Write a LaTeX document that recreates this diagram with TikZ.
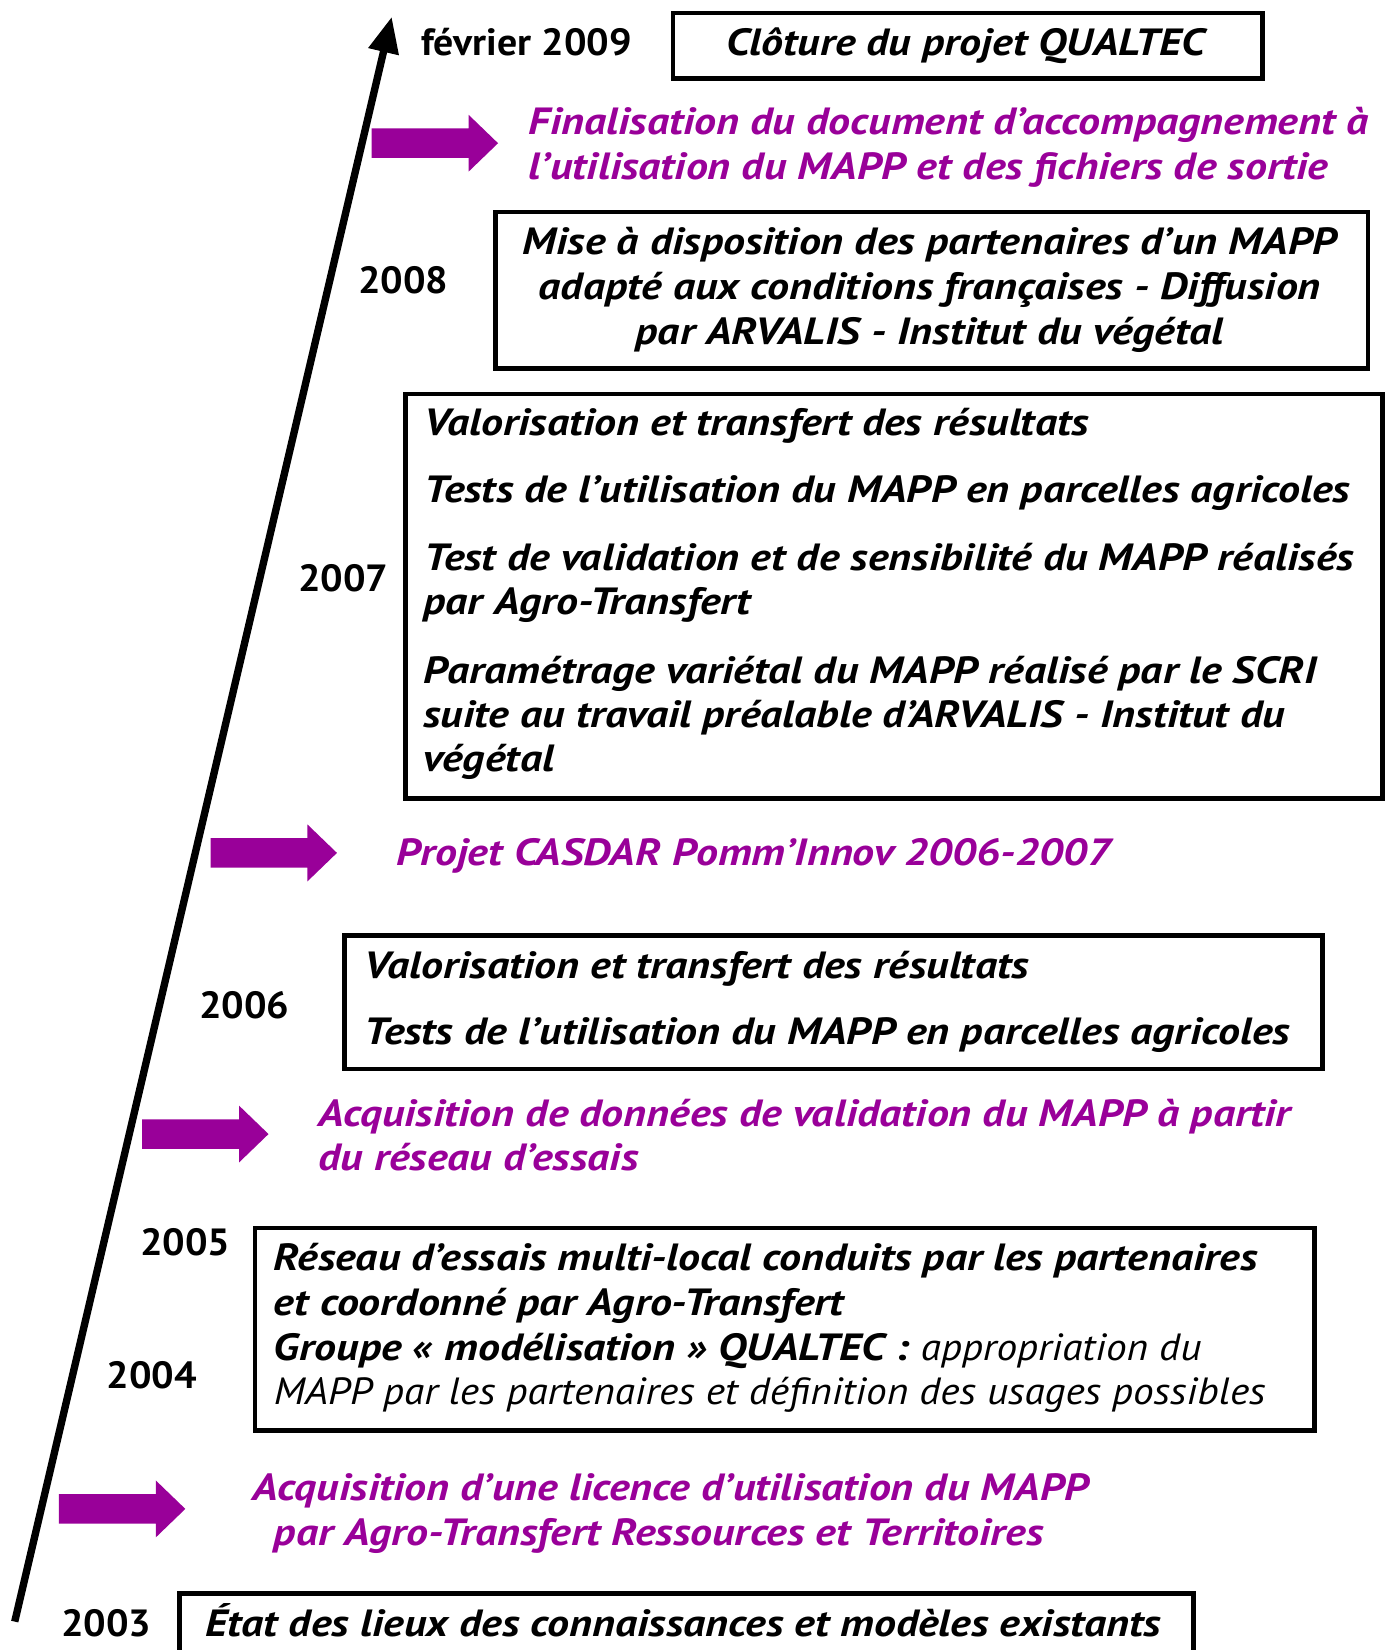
\documentclass[tikz,border=0pt]{standalone}
\usepackage{fontspec}
\setmainfont{PT Sans}
\newfontfamily\boxfont{PT Sans}[FakeStretch=1.16]
\newfontfamily\regfont{PT Sans}[FakeStretch=1.09]
\newfontfamily\yrfont{PT Sans}[FakeStretch=1.05]
\usetikzlibrary{arrows.meta}
\definecolor{mag}{HTML}{990099}
\begin{document}
\begin{tikzpicture}[x=1pt,y=-1pt,
  tbox/.style={draw=black, line width=4.5pt, inner sep=0pt, anchor=north west},
  txt/.style={inner sep=0pt, anchor=base west, font=\boxfont\fontsize{36}{42}\selectfont\bfseries\itshape},
  ctxt/.style={txt, anchor=base},
  mtxt/.style={txt, text=mag},
  yr/.style={inner sep=0pt, anchor=base west, font=\yrfont\fontsize{36}{40}\selectfont\bfseries},
  blockarrow/.pic={\fill[mag] (0,-14) -- (92,-14) -- (92,-27) -- (120,0) -- (92,27) -- (92,14) -- (0,14) -- cycle;}
]
\useasboundingbox (0,0) rectangle (1320,1567);
\clip (0,0) rectangle (1320,1567);
\fill[white] (0,0) rectangle (1320,1567);

% timeline
\coordinate (t0) at (14,1540);
\coordinate (t1) at (372,16);
\draw[line width=7pt, -{Triangle[length=34pt,width=28pt]}] (t0) -- (t1);

% top
\node[yr] (y09) at (400,53) {février 2009};
\node[tbox, minimum width=560, minimum height=62] (b1) at (637,10) {};
\node[ctxt] (b1t) at (917,53) {Clôture du projet QUALTEC};

\pic (a1) at (353,136) {blockarrow};
\node[mtxt] (m1a) at (502,128) {Finalisation du document d’accompagnement à};
\node[mtxt] (m1b) at (502,170) {l’utilisation du MAPP et des fichiers de sortie};

% 2008
\node[yr] (y08) at (340,279) {2008};
\node[tbox, minimum width=829, minimum height=149] (b2) at (468,199) {};
\node[ctxt] (b2a) at (883,242) {Mise à disposition des partenaires d’un MAPP};
\node[ctxt] (b2b) at (883,284) {adapté aux conditions françaises - Diffusion};
\node[ctxt] (b2c) at (883,327) {par ARVALIS - Institut du végétal};

% 2007
\node[yr] (y07) at (283,562) {2007};
\node[tbox, minimum width=928, minimum height=384] (b3) at (383,372) {};
\node[txt] (b3a) at (403,414) {Valorisation et transfert des résultats};
\node[txt] (b3b) at (403,477) {Tests de l’utilisation du MAPP en parcelles agricoles};
\node[txt] (b3c) at (403,542) {Test de validation et de sensibilité du MAPP réalisés};
\node[txt] (b3d) at (402,584) {par Agro-Transfert};
\node[txt] (b3e) at (402,649) {Paramétrage variétal du MAPP réalisé par le SCRI};
\node[txt] (b3f) at (402,691) {suite au travail préalable d’ARVALIS - Institut du};
\node[txt] (b3g) at (402,733) {végétal};

\pic (a2) at (200,810) {blockarrow};
\node[mtxt] (m2) at (376,822) {Projet CASDAR Pomm’Innov 2006-2007};

% 2006
\node[yr] (y06) at (189,967) {2006};
\node[tbox, minimum width=929, minimum height=127] (b4) at (325,886) {};
\node[txt] (b4a) at (346,929) {Valorisation et transfert des résultats};
\node[txt] (b4b) at (346,992) {Tests de l’utilisation du MAPP en parcelles agricoles};

\pic (a3) at (135,1077) {blockarrow};
\node[mtxt] (m3a) at (302,1070) {Acquisition de données de validation du MAPP à partir};
\node[mtxt] (m3b) at (302,1112) {du réseau d’essais};

% 2005 / 2004
\node[yr] (y05) at (133,1192) {2005};
\node[yr] (y04) at (101,1319) {2004};
\node[tbox, minimum width=1006, minimum height=192] (b5) at (240,1164) {};
\node[txt] (b5a) at (260,1207) {Réseau d’essais multi-local conduits par les partenaires};
\node[txt] (b5b) at (260,1249) {et coordonné par Agro-Transfert};
\node[txt] (b5c) at (260,1292) {Groupe « modélisation » QUALTEC : {\regfont\mdseries appropriation du}};
\node[txt, font=\regfont\fontsize{36}{42}\selectfont\mdseries\itshape] (b5d) at (260,1334) {MAPP par les partenaires et définition des usages possibles};

\pic (a4) at (56,1433) {blockarrow};
\node[mtxt] (m4a) at (240,1425) {Acquisition d’une licence d’utilisation du MAPP};
\node[mtxt] (m4b) at (260,1468) {par Agro-Transfert Ressources et Territoires};

% 2003
\node[yr] (y03) at (58,1554) {2003};
\node[tbox, minimum width=963, minimum height=90] (b6) at (168,1511) {};
\node[txt] (b6t) at (195,1554) {État des lieux des connaissances et modèles existants};
\end{tikzpicture}
\end{document}
